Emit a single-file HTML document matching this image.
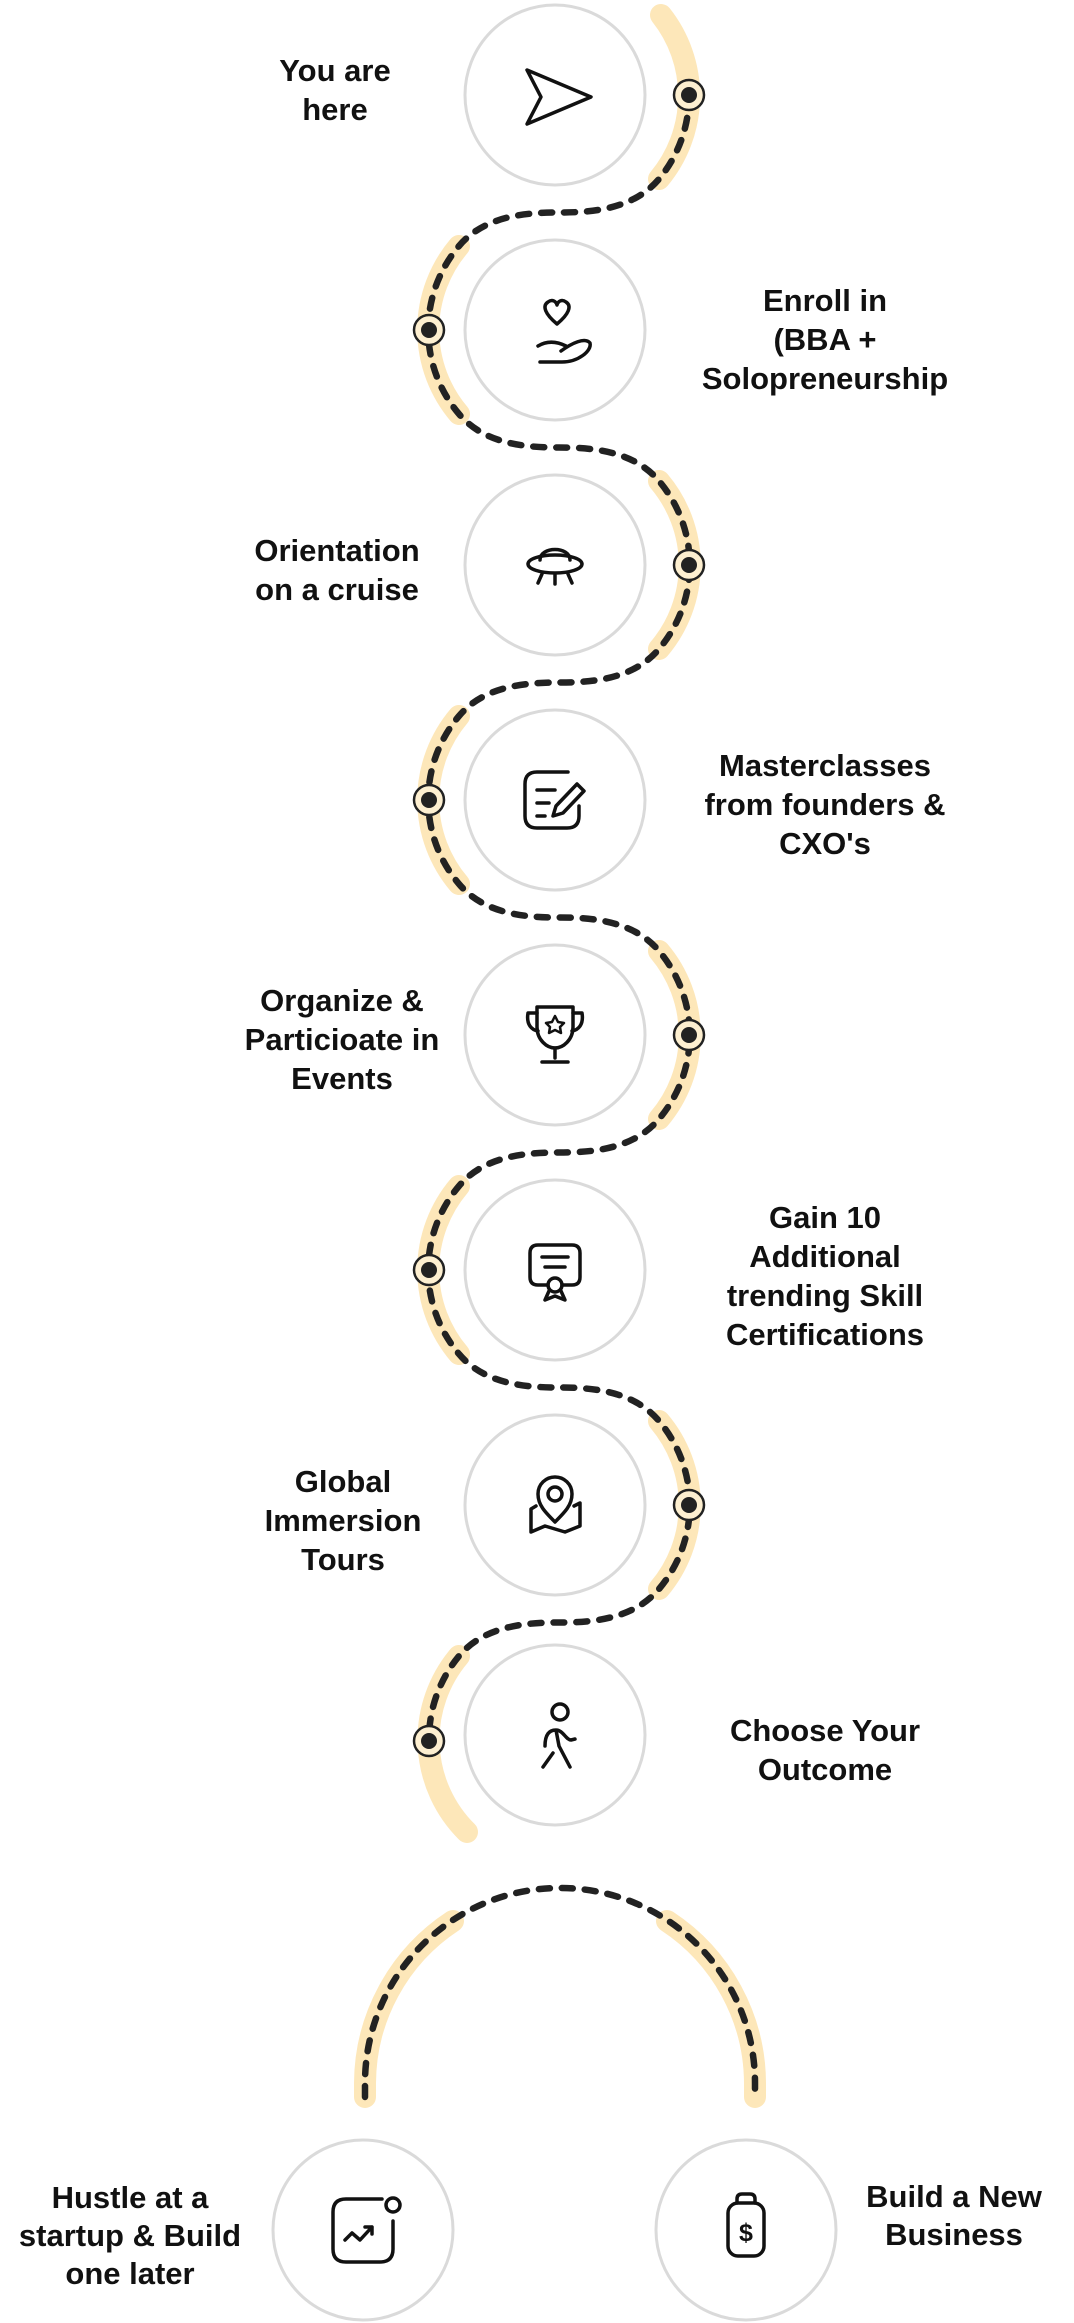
<!DOCTYPE html>
<html><head><meta charset="utf-8"><style>
html,body{margin:0;padding:0;background:#fff;}
svg{display:block;}
text{font-family:"Liberation Sans",sans-serif;font-weight:bold;font-size:31px;fill:#111;text-anchor:middle;}
</style></head><body>
<svg width="1074" height="2323" viewBox="0 0 1074 2323" xmlns="http://www.w3.org/2000/svg">
<g fill="none" stroke="#FDE7B9" stroke-width="22" stroke-linecap="round">
<path d="M661,15 A130,130 0 0 1 659,179"/>
<path d="M459,246 A130,130 0 0 0 459,414"/>
<path d="M659,481 A130,130 0 0 1 659,649"/>
<path d="M459,716 A130,130 0 0 0 459,884"/>
<path d="M659,951 A130,130 0 0 1 659,1119"/>
<path d="M459,1186 A130,130 0 0 0 459,1354"/>
<path d="M659,1421 A130,130 0 0 1 659,1589"/>
<path d="M459,1656 A130,130 0 0 0 467,1832"/>
<path d="M365,2097 L365,2083 A195,195 0 0 1 453,1921"/>
<path d="M667,1921 A195,195 0 0 1 755,2083 L755,2097"/>
</g>
<g fill="#fff" stroke="#dadada" stroke-width="3">
<circle cx="555" cy="95" r="90"/>
<circle cx="555" cy="330" r="90"/>
<circle cx="555" cy="565" r="90"/>
<circle cx="555" cy="800" r="90"/>
<circle cx="555" cy="1035" r="90"/>
<circle cx="555" cy="1270" r="90"/>
<circle cx="555" cy="1505" r="90"/>
<circle cx="555" cy="1735" r="90"/>
<circle cx="363" cy="2230" r="90"/>
<circle cx="746" cy="2230" r="90"/>
</g>
<g fill="none" stroke="#222" stroke-width="6.5" stroke-linecap="round" stroke-dasharray="11 12">
<path d="M689,95 A130,130 0 0 1 659,179 C633,210 590,212.5 559,212.5 C528,212.5 485,215 459,246 A130,130 0 0 0 459,414 C485,445 528,447.5 559,447.5 C590,447.5 633,450 659,481 A130,130 0 0 1 659,649 C633,680 590,682.5 559,682.5 C528,682.5 485,685 459,716 A130,130 0 0 0 459,884 C485,915 528,917.5 559,917.5 C590,917.5 633,920 659,951 A130,130 0 0 1 659,1119 C633,1150 590,1152.5 559,1152.5 C528,1152.5 485,1155 459,1186 A130,130 0 0 0 459,1354 C485,1385 528,1387.5 559,1387.5 C590,1387.5 633,1390 659,1421 A130,130 0 0 1 659,1589 C633,1620 590,1622.5 559,1622.5 C528,1622.5 485,1625 459,1656 A130,130 0 0 0 429,1740"/>
<path d="M365,2097 L365,2083 A195,195 0 0 1 755,2083 L755,2097"/>
</g>
<g>
<g fill="#FDEFD0" stroke="#222" stroke-width="2.5">
<circle cx="689" cy="95" r="15"/><circle cx="429" cy="330" r="15"/>
<circle cx="689" cy="565" r="15"/><circle cx="429" cy="800" r="15"/>
<circle cx="689" cy="1035" r="15"/><circle cx="429" cy="1270" r="15"/>
<circle cx="689" cy="1505" r="15"/><circle cx="429" cy="1741" r="15"/>
</g>
<g fill="#222">
<circle cx="689" cy="95" r="8"/><circle cx="429" cy="330" r="8"/>
<circle cx="689" cy="565" r="8"/><circle cx="429" cy="800" r="8"/>
<circle cx="689" cy="1035" r="8"/><circle cx="429" cy="1270" r="8"/>
<circle cx="689" cy="1505" r="8"/><circle cx="429" cy="1741" r="8"/>
</g>
</g>
<g fill="none" stroke="#111" stroke-width="3.5" stroke-linecap="round" stroke-linejoin="round">
<path d="M527,70 L591,97 L527,124 L541,97 Z"/>
<path d="M557,324 C545,314 542,306 548,302 C552,299 556,301 557,305 C558,301 562,299 566,302 C572,306 569,314 557,324 Z"/>
<path d="M538,346 C548,340 558,342 566,346 M561,351 C572,343 585,337 590,343 C592,351 578,362 562,362 L540,362"/>
<path d="M540,560 C540,546 570,546 570,560"/>
<ellipse cx="555" cy="564" rx="27" ry="9"/>
<path d="M542,574 L538,583 M555,575 L555,584 M568,574 L572,583"/>
<path d="M568,772 H537 Q525,772 525,784 V816 Q525,828 537,828 H567 Q579,828 579,816 V806"/>
<path d="M537,790 H555 M537,803 H549 M537,816 H545"/>
<path d="M577,784 L556,806 L553,816 L563,813 L584,791 Z"/>
<path d="M537,1007 H573 V1027 C573,1040 563,1048 555,1048 C547,1048 537,1040 537,1027 Z"/>
<path d="M537,1013 H528 C526,1025 532,1030 538,1031 M573,1013 H582 C584,1025 578,1030 572,1031 M555,1048 V1058 M542,1062 H568"/>
<path d="M555,1016 L558,1022 L564,1023 L560,1027 L561,1033 L555,1030 L549,1033 L550,1027 L546,1023 L552,1022 Z" stroke-width="2.5"/>
<path d="M548,1285 H538 Q530,1285 530,1277 V1253 Q530,1245 538,1245 H572 Q580,1245 580,1253 V1277 Q580,1285 572,1285 H562"/>
<path d="M542,1257 H568 M545,1267 H565"/>
<circle cx="555" cy="1285" r="7"/>
<path d="M549,1291 L545,1300 L555,1296 L565,1300 L561,1291"/>
<circle cx="555" cy="1494" r="7"/>
<path d="M555,1522 C545,1512 538,1505 538,1494 C538,1484 546,1477 555,1477 C564,1477 572,1484 572,1494 C572,1505 565,1512 555,1522"/>
<path d="M536,1506 L531,1509 V1532 L545,1526 L565,1532 L580,1526 V1503 L574,1506"/>
<circle cx="560" cy="1712" r="8"/>
<path d="M545,1746 C545,1735 549,1730 556,1730 C563,1730 566,1740 571,1740 L575,1739 M556,1730 L559,1746 L570,1767 M553,1753 L543,1767"/>
<path d="M382,2199 H346 Q333,2199 333,2212 V2249 Q333,2262 346,2262 H380 Q393,2262 393,2249 V2221"/>
<circle cx="393" cy="2205" r="7"/>
<path d="M345,2240 L352,2233 L360,2240 L372,2227 M365,2227 H372 V2234"/>
<path d="M737,2203 V2199 Q737,2194 742,2194 H750 Q755,2194 755,2199 V2203"/>
<rect x="728" y="2203" width="36" height="53" rx="10"/>
</g>
<text x="746" y="2241" style="font-size:25px">$</text>
<text x="335" y="81">You are</text><text x="335" y="120">here</text>
<text x="825" y="311">Enroll in</text><text x="825" y="350">(BBA +</text><text x="825" y="389">Solopreneurship</text>
<text x="337" y="561">Orientation</text><text x="337" y="600">on a cruise</text>
<text x="825" y="776">Masterclasses</text><text x="825" y="815">from founders &amp;</text><text x="825" y="854">CXO's</text>
<text x="342" y="1011">Organize &amp;</text><text x="342" y="1050">Particioate in</text><text x="342" y="1089">Events</text>
<text x="825" y="1228">Gain 10</text><text x="825" y="1267">Additional</text><text x="825" y="1306">trending Skill</text><text x="825" y="1345">Certifications</text>
<text x="343" y="1492">Global</text><text x="343" y="1531">Immersion</text><text x="343" y="1570">Tours</text>
<text x="825" y="1741">Choose Your</text><text x="825" y="1780">Outcome</text>
<text x="130" y="2208">Hustle at a</text><text x="130" y="2246">startup &amp; Build</text><text x="130" y="2284">one later</text>
<text x="954" y="2207">Build a New</text><text x="954" y="2245">Business</text>
</svg>
</body></html>
